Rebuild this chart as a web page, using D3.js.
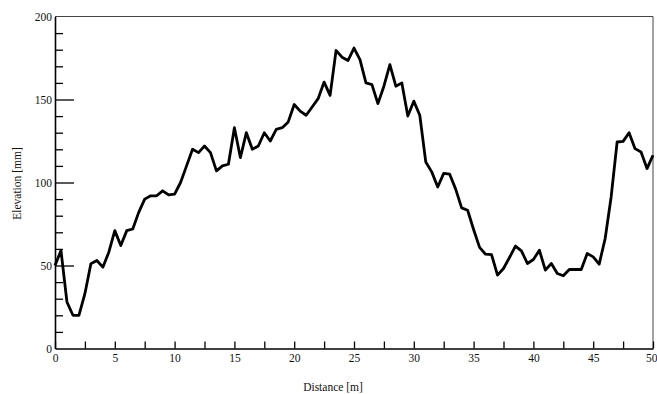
<!DOCTYPE html>
<html>
<head>
<meta charset="utf-8">
<script src="https://cdn.jsdelivr.net/npm/d3@7/dist/d3.min.js"></script>
<style>
  html, body { margin: 0; padding: 0; background: #fff; }
  svg { display: block; }
  .axis text { font-family: "Liberation Serif", "DejaVu Serif", serif; font-size: 11.5px; fill: #111; }
  .title { font-family: "Liberation Serif", "DejaVu Serif", serif; font-size: 11.5px; fill: #111; }
</style>
</head>
<body>
<svg id="chart" width="657" height="394"></svg>
<script>
// Surface profile: elevation sampled every 0.5 m along a 50 m transect
const distance = d3.range(0, 50.001, 0.5);
const elevation = [
  50, 59, 28, 20, 20, 33, 51, 53, 49, 58,
  71, 62, 71, 72, 82, 90, 92, 92, 95, 92.5,
  93, 100, 110, 120, 118, 122, 118, 107, 110, 111,
  133, 115, 130, 120, 122, 130, 125, 132, 133, 136.5,
  147, 143, 140.5, 145.5, 150.5, 160.5, 152.5, 179.5, 175.5, 173.5,
  181, 174, 160, 159, 147.5, 158, 171, 158, 160, 140,
  149, 140.5, 112.4, 106.4, 97.3, 105.5, 105, 96, 84.7, 83.3,
  71.7, 60.9, 56.8, 56.6, 44.2, 48.2, 54.8, 61.7, 58.8, 51.2,
  53.6, 59.2, 47.2, 51.2, 45.2, 43.8, 47.6, 47.6, 47.6, 57.2,
  55.2, 50.8, 66.3, 91.3, 124.4, 124.8, 130, 120.4, 118.4, 108.4,
  116.4
];
const xTicks = d3.range(0, 50.001, 2.5);
const yTicks = d3.range(0, 200.001, 10);
const xLabelEvery = 5;
const yLabelEvery = 50;
const xTitle = "Distance [m]";
const yTitle = "Elevation [mm]";

const svg = d3.select("#chart");
const plotLeft = 55, plotRight = 653, plotTop = 16.5, plotBottom = 348.5;

const x = d3.scaleLinear().domain([0, 50]).range([plotLeft, plotRight]);
const y = d3.scaleLinear().domain([0, 200]).range([plotBottom, plotTop]);

// thin frame on top and right
svg.append("line").attr("x1", plotLeft).attr("x2", plotRight).attr("y1", plotTop).attr("y2", plotTop)
  .attr("stroke", "#444").attr("stroke-width", 1);
svg.append("line").attr("x1", plotRight).attr("x2", plotRight).attr("y1", plotTop).attr("y2", plotBottom)
  .attr("stroke", "#444").attr("stroke-width", 1);

// bottom axis, ticks pointing inward
const gx = svg.append("g").attr("class", "axis")
  .attr("transform", `translate(0,${plotBottom})`)
  .call(d3.axisBottom(x).tickValues(xTicks).tickSize(-7).tickSizeOuter(0).tickPadding(5.5)
    .tickFormat(d => (d % xLabelEvery === 0 ? d3.format("d")(d) : "")));
gx.select(".domain").attr("stroke", "#000").attr("stroke-width", 1.6);
gx.selectAll(".tick line").attr("stroke", "#000").attr("stroke-width", 1.3);
// keep the last label inside the page edge
gx.selectAll(".tick text").filter(d => d === 50)
  .attr("text-anchor", "end").attr("x", 4);

// left axis, short ticks every 10 and long ones every 50
const gy = svg.append("g").attr("class", "axis")
  .attr("transform", `translate(${plotLeft},0)`)
  .call(d3.axisLeft(y).tickValues(yTicks).tickSize(-8).tickSizeOuter(0).tickPadding(3)
    .tickFormat(d => (d % yLabelEvery === 0 ? d3.format("d")(d) : "")));
gy.select(".domain").attr("stroke", "#000").attr("stroke-width", 1.6);
gy.selectAll(".tick line").attr("stroke", "#000").attr("stroke-width", 1.3)
  .attr("x2", d => (d === 0 || d === 200 ? 0 : (d % yLabelEvery === 0 ? 19 : 8)));

// profile line
const line = d3.line().x((d, i) => x(distance[i])).y(d => y(d));
svg.append("path").datum(elevation)
  .attr("d", line)
  .attr("fill", "none")
  .attr("stroke", "#000")
  .attr("stroke-width", 2.8)
  .attr("stroke-linejoin", "round");

// axis titles
svg.append("text").attr("class", "title")
  .attr("x", 333).attr("y", 391).attr("text-anchor", "middle").text(xTitle);
svg.append("text").attr("class", "title")
  .attr("transform", "translate(21,183.5) rotate(-90)")
  .attr("text-anchor", "middle").text(yTitle);
</script>
</body>
</html>
